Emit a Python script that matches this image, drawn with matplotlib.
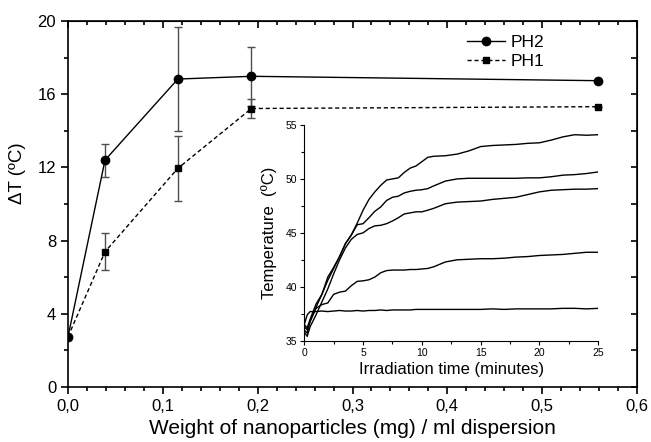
import matplotlib
matplotlib.use("Agg")
import matplotlib.pyplot as plt
from matplotlib.ticker import MultipleLocator, FuncFormatter

plt.rcParams["font.family"] = ["Liberation Sans", "DejaVu Sans"]

# main plot: temperature rise vs. nanoparticle weight
weight = [0.0, 0.039, 0.1158, 0.1934, 0.5593]
ph2_dt = [2.75, 12.4, 16.83, 16.98, 16.74]
ph2_err = [0.0, 0.9, 2.83, 1.6, 0.0]
ph1_dt = [2.75, 7.39, 11.95, 15.22, 15.32]
ph1_err = [0.0, 1.0, 1.77, 0.5, 0.0]

# inset: temperature vs. irradiation time
time_min = [0, 0.25, 0.5, 1, 1.5, 2, 2.5, 3, 3.5, 4, 4.5, 5, 5.5, 6, 6.5, 7, 7.5, 8,
            8.5, 9, 9.5, 10, 10.5, 11, 12, 13, 14, 15, 16, 17, 18, 19, 20, 21, 22,
            23, 24, 25]
temp_a = [36.5, 36.2, 37.0, 38.4, 39.3, 40.6, 41.7, 42.8, 44.0, 44.8, 45.9, 47.1, 48.1,
          48.8, 49.4, 49.9, 50.0, 50.1, 50.6, 51.0, 51.2, 51.6, 52.0, 52.1, 52.15, 52.3,
          52.6, 53.0, 53.1, 53.15, 53.2, 53.3, 53.35, 53.6, 53.9, 54.1, 54.05, 54.1]
temp_b = [36.3, 36.0, 36.8, 38.1, 39.3, 40.9, 41.8, 42.8, 44.0, 44.8, 45.75, 45.85, 46.4,
          47.0, 47.4, 48.0, 48.3, 48.4, 48.7, 48.85, 48.95, 49.0, 49.1, 49.35, 49.8, 50.0,
          50.06, 50.06, 50.06, 50.06, 50.06, 50.1, 50.1, 50.2, 50.35, 50.4, 50.5, 50.65]
temp_c = [35.8, 35.4, 36.3, 37.4, 38.6, 39.8, 41.2, 42.5, 43.6, 44.4, 44.85, 45.0, 45.4,
          45.65, 45.7, 45.85, 46.1, 46.4, 46.75, 46.85, 46.95, 46.95, 47.1, 47.27, 47.7,
          47.85, 47.9, 47.95, 48.1, 48.2, 48.3, 48.55, 48.8, 48.95, 49.0, 49.05, 49.05, 49.1]
temp_d = [36.0, 35.7, 36.8, 38.0, 38.35, 38.5, 39.3, 39.5, 39.6, 40.1, 40.5, 40.55, 40.65,
          40.9, 41.3, 41.5, 41.55, 41.55, 41.55, 41.6, 41.6, 41.65, 41.7, 41.85, 42.3, 42.5,
          42.55, 42.6, 42.6, 42.65, 42.75, 42.8, 42.9, 42.95, 43.0, 43.1, 43.2, 43.2]
temp_e = [36.5, 37.4, 37.7, 37.7, 37.75, 37.7, 37.75, 37.8, 37.75, 37.75, 37.8, 37.75, 37.8,
          37.8, 37.85, 37.8, 37.85, 37.85, 37.85, 37.85, 37.9, 37.9, 37.9, 37.9, 37.9, 37.9,
          37.9, 37.9, 37.95, 37.9, 37.95, 37.95, 37.95, 37.95, 38.0, 38.0, 37.95, 38.0]


def comma(v, pos):
    return f"{v:.1f}".replace(".", ",")


fig = plt.figure(figsize=(6.51, 4.42), dpi=100)
ax = fig.add_axes([0.1045, 0.1244, 0.874, 0.828])

ax.errorbar(weight, ph2_dt, yerr=ph2_err, fmt="none", ecolor="0.3", elinewidth=1,
            capsize=3, capthick=1)
ax.errorbar(weight, ph1_dt, yerr=ph1_err, fmt="none", ecolor="0.3", elinewidth=1,
            capsize=3, capthick=1)
ax.plot(weight, ph2_dt, "-", color="black", lw=1, marker="o", ms=6, label="PH2")
ax.plot(weight, ph1_dt, color="black", lw=1, ls=(0, (3, 2)), marker="s", ms=5, label="PH1")

ax.set_xlim(0, 0.6)
ax.set_ylim(0, 20)
ax.xaxis.set_major_locator(MultipleLocator(0.1))
ax.xaxis.set_minor_locator(MultipleLocator(0.02))
ax.yaxis.set_major_locator(MultipleLocator(4))
ax.yaxis.set_minor_locator(MultipleLocator(2))
ax.xaxis.set_major_formatter(FuncFormatter(comma))
ax.tick_params(which="major", direction="out", length=5, width=1.2, labelsize=12)
ax.tick_params(which="minor", direction="out", length=3, width=1.2)
for s in ax.spines.values():
    s.set_linewidth(1.2)

top = ax.secondary_xaxis("top")
top.xaxis.set_major_locator(MultipleLocator(0.1))
top.xaxis.set_minor_locator(MultipleLocator(0.02))
top.tick_params(which="both", direction="in", labeltop=False, width=1.2)
top.tick_params(which="major", length=5)
top.tick_params(which="minor", length=3)
right = ax.secondary_yaxis("right")
right.yaxis.set_major_locator(MultipleLocator(4))
right.yaxis.set_minor_locator(MultipleLocator(2))
right.tick_params(which="both", direction="in", labelright=False, width=1.2, length=4)

ax.set_xlabel("Weight of nanoparticles (mg) / ml dispersion", fontsize=15, labelpad=4)
ax.set_ylabel("ΔT (ºC)", fontsize=13.5)
ax.yaxis.set_label_coords(-0.074, 0.585)

ax.legend(loc="upper left", bbox_to_anchor=(0.68, 0.995), frameon=False, fontsize=12.5,
          handlelength=2.2, handletextpad=0.3, labelspacing=0.2, borderpad=0.2)

# inset
axin = fig.add_axes([0.4674, 0.2292, 0.4516, 0.488])
axin.patch.set_alpha(0)
for t in (temp_a, temp_b, temp_c, temp_d, temp_e):
    axin.plot(time_min, t, color="black", lw=1)
axin.set_xlim(0, 25)
axin.set_ylim(35, 55)
axin.spines["top"].set_visible(False)
axin.spines["right"].set_visible(False)
for s in ("left", "bottom"):
    axin.spines[s].set_linewidth(0.8)
axin.xaxis.set_major_locator(MultipleLocator(5))
axin.xaxis.set_minor_locator(MultipleLocator(2.5))
axin.yaxis.set_major_locator(MultipleLocator(5))
axin.yaxis.set_minor_locator(MultipleLocator(2.5))
axin.tick_params(which="major", direction="out", length=3, width=0.8, labelsize=7.5, pad=2)
axin.tick_params(which="minor", direction="out", length=2, width=0.8)
axin.set_xlabel("Irradiation time (minutes)", fontsize=12, labelpad=3)
axin.set_ylabel("Temperature  (ºC)", fontsize=12, labelpad=6)

fig.savefig("out.png", dpi=100)
